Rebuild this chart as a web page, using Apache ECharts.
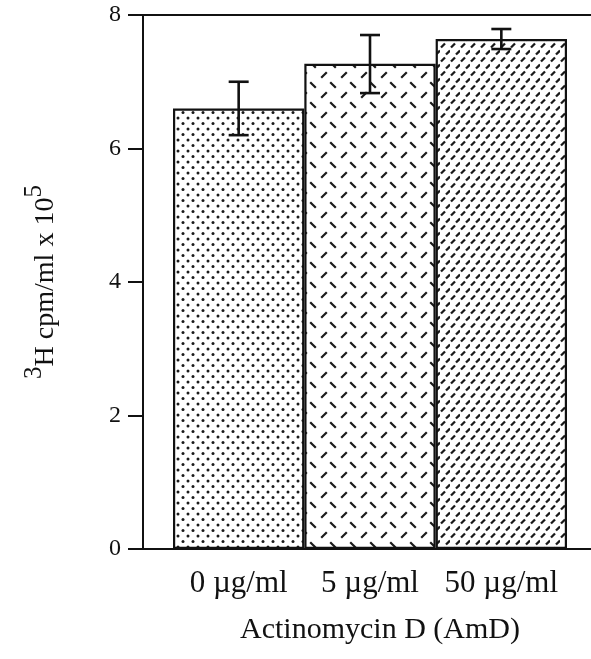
<!DOCTYPE html>
<html>
<head>
<meta charset="utf-8">
<script src="https://cdn.jsdelivr.net/npm/echarts@6/dist/echarts.min.js"></script>
<style>
  html, body { margin: 0; padding: 0; background: #fff; }
  #chart { width: 591px; height: 659px; }
</style>
</head>
<body>
<div id="chart"></div>
<script>
// data
const categories = ["0 \u00b5g/ml", "5 \u00b5g/ml", "50 \u00b5g/ml"];
const means = [6.6, 7.27, 7.64];
const errLow = [6.2, 6.83, 7.49];
const errHigh = [7.0, 7.7, 7.79];
const yMin = 0;
const yMax = 8;
const yStep = 2;

const FONT = "'Liberation Serif', 'Times New Roman', serif";

// fill patterns for the bars
function makePattern(w, h, draw) {
  const c = document.createElement("canvas");
  c.width = w;
  c.height = h;
  const ctx = c.getContext("2d");
  ctx.fillStyle = "#fff";
  ctx.fillRect(0, 0, w, h);
  ctx.fillStyle = "#1a1a1a";
  ctx.strokeStyle = "#1a1a1a";
  draw(ctx);
  return { image: c, repeat: "repeat" };
}

function dash(ctx, cx, cy, dx, dy, lw) {
  ctx.lineWidth = lw;
  ctx.lineCap = "butt";
  ctx.beginPath();
  ctx.moveTo(cx - dx, cy - dy);
  ctx.lineTo(cx + dx, cy + dy);
  ctx.stroke();
}

const dotFill = makePattern(10, 11, (ctx) => {
  [[3, 2.5], [8, 8]].forEach(([x, y]) => {
    ctx.beginPath();
    ctx.arc(x, y, 1.5, 0, Math.PI * 2);
    ctx.fill();
  });
});

const crossDashFill = makePattern(20, 20, (ctx) => {
  dash(ctx, 13, 5, 2.8, 2.8, 2.2);   // "\"
  dash(ctx, 4, 15, 2.8, -2.8, 2.2);  // "/"
});

const denseDashFill = makePattern(10, 14, (ctx) => {
  dash(ctx, 3, 3.5, 2, -2, 2.3);
  dash(ctx, 8, 10.5, 2, -2, 2.3);
});

const fills = [dotFill, crossDashFill, denseDashFill];

const chart = echarts.init(document.getElementById("chart"), null, { renderer: "canvas" });

const option = {
  backgroundColor: "#fff",
  animation: false,
  textStyle: { fontFamily: FONT, color: "#111" },
  grid: [
    { left: 143, right: 0, top: 15, bottom: 110 },
    { left: 173, right: 24, top: 15, bottom: 110 },
  ],
  xAxis: [
    {
      // frame: bottom line
      gridIndex: 0,
      type: "category",
      data: categories,
      axisLine: { lineStyle: { color: "#111", width: 2 } },
      axisTick: { show: false },
      axisLabel: { show: false },
    },
    {
      // frame: top line
      gridIndex: 0,
      type: "category",
      position: "top",
      data: categories,
      axisLine: { lineStyle: { color: "#111", width: 2 } },
      axisTick: { show: false },
      axisLabel: { show: false },
    },
    {
      gridIndex: 1,
      type: "category",
      data: categories,
      axisLine: { show: false },
      axisTick: { show: false },
      axisLabel: {
        interval: 0,
        fontFamily: FONT,
        fontSize: 31,
        color: "#111",
        margin: 19,
      },
      name: "Actinomycin D (AmD)",
      nameLocation: "middle",
      nameGap: 66,
      nameTextStyle: {
        fontFamily: FONT,
        fontSize: 30,
        color: "#111",
        padding: [0, 0, 0, 20],
      },
    },
  ],
  yAxis: [
    {
      gridIndex: 0,
      type: "value",
      min: yMin,
      max: yMax,
      interval: yStep,
      axisLine: { show: true, lineStyle: { color: "#111", width: 2 } },
      axisTick: { show: true, length: 15, lineStyle: { color: "#111", width: 2 } },
      splitLine: { show: false },
      axisLabel: {
        fontFamily: FONT,
        fontSize: 24,
        color: "#111",
        margin: 22,
      },
      name: "{sup|3}H cpm/ml x 10{sup|5}",
      nameLocation: "middle",
      nameGap: 74,
      nameRotate: 90,
      nameTextStyle: {
        fontFamily: FONT,
        fontSize: 28,
        color: "#111",
        rich: {
          sup: {
            fontFamily: FONT,
            fontSize: 25,
            color: "#111",
            verticalAlign: "top",
            padding: [0, 0, 22, 0],
          },
        },
      },
    },
    {
      gridIndex: 1,
      type: "value",
      min: yMin,
      max: yMax,
      interval: yStep,
      show: false,
    },
  ],
  series: [
    {
      type: "bar",
      xAxisIndex: 2,
      yAxisIndex: 1,
      barCategoryGap: "0%",
      data: means.map((v, i) => ({
        value: v,
        itemStyle: { color: fills[i] },
      })),
      itemStyle: { borderColor: "#111", borderWidth: 2.2 },
      z: 2,
    },
    {
      type: "custom",
      xAxisIndex: 2,
      yAxisIndex: 1,
      data: categories.map((c, i) => [i, errLow[i], errHigh[i]]),
      renderItem: function (params, api) {
        const lo = api.coord([api.value(0), api.value(1)]);
        const hi = api.coord([api.value(0), api.value(2)]);
        const half = 10;
        const style = { stroke: "#111", lineWidth: 2.6 };
        return {
          type: "group",
          children: [
            { type: "line", shape: { x1: hi[0], y1: hi[1], x2: lo[0], y2: lo[1] }, style: style },
            { type: "line", shape: { x1: hi[0] - half, y1: hi[1], x2: hi[0] + half, y2: hi[1] }, style: style },
            { type: "line", shape: { x1: lo[0] - half, y1: lo[1], x2: lo[0] + half, y2: lo[1] }, style: style },
          ],
        };
      },
      z: 5,
    },
  ],
};

chart.setOption(option);
</script>
</body>
</html>
